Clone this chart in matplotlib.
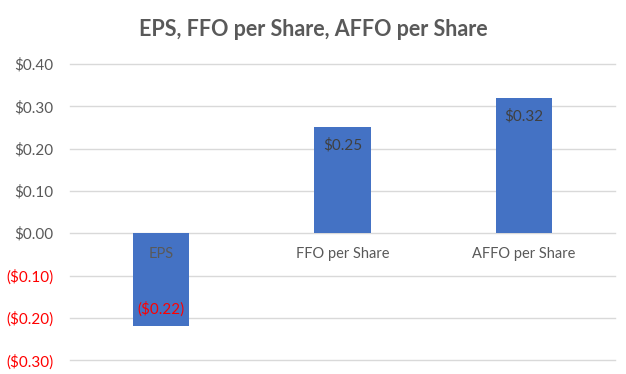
import matplotlib
matplotlib.use('Agg')
import matplotlib.pyplot as plt

categories = ["EPS", "FFO per Share", "AFFO per Share"]
values = [-0.22, 0.25, 0.32]
yticks = [-0.30, -0.20, -0.10, 0.00, 0.10, 0.20, 0.30, 0.40]


def money(v):
    if v < 0:
        return "(${:.2f})".format(abs(v))
    return "${:.2f}".format(v)


plt.rcParams['font.family'] = ['Lato', 'DejaVu Sans']

fig = plt.figure(figsize=(6.26, 3.74), dpi=100)
ax = fig.add_axes([0.112, 0.037, 0.870, 0.792])

x = list(range(len(categories)))
ax.bar(x, values, width=0.31, color='#4472C4', zorder=3)

ax.set_xlim(-0.5, 2.5)
ax.set_ylim(-0.30, 0.40)
ax.set_yticks(yticks)
ax.set_yticklabels([money(t) for t in yticks], fontsize=11)
for lbl, t in zip(ax.get_yticklabels(), yticks):
    lbl.set_color('#FF0000' if t < 0 else '#595959')
ax.tick_params(axis='y', length=0, pad=12)
ax.set_xticks([])
ax.yaxis.grid(True, color='#D9D9D9', linewidth=1, zorder=0)
for gl in ax.get_ygridlines():
    gl.set_clip_on(False)
for s in ax.spines.values():
    s.set_visible(False)

# category names sit just under the zero line
for xi, name in zip(x, categories):
    ax.text(xi, -0.05, name, ha='center', va='center', fontsize=10.5, color='#595959', zorder=4)

# value labels at the inside end of each bar
for xi, v in zip(x, values):
    if v < 0:
        ax.text(xi, v + 0.04, money(v), ha='center', va='center', fontsize=11, color='#FF0000', zorder=4)
    else:
        ax.text(xi, v - 0.043, money(v), ha='center', va='center', fontsize=11, color='#404040', zorder=4)

fig.text(0.5, 0.92, "EPS, FFO per Share, AFFO per Share", ha='center', va='center',
         fontsize=15.5, fontweight='bold', color='#595959')

fig.savefig('out.png', dpi=100)
